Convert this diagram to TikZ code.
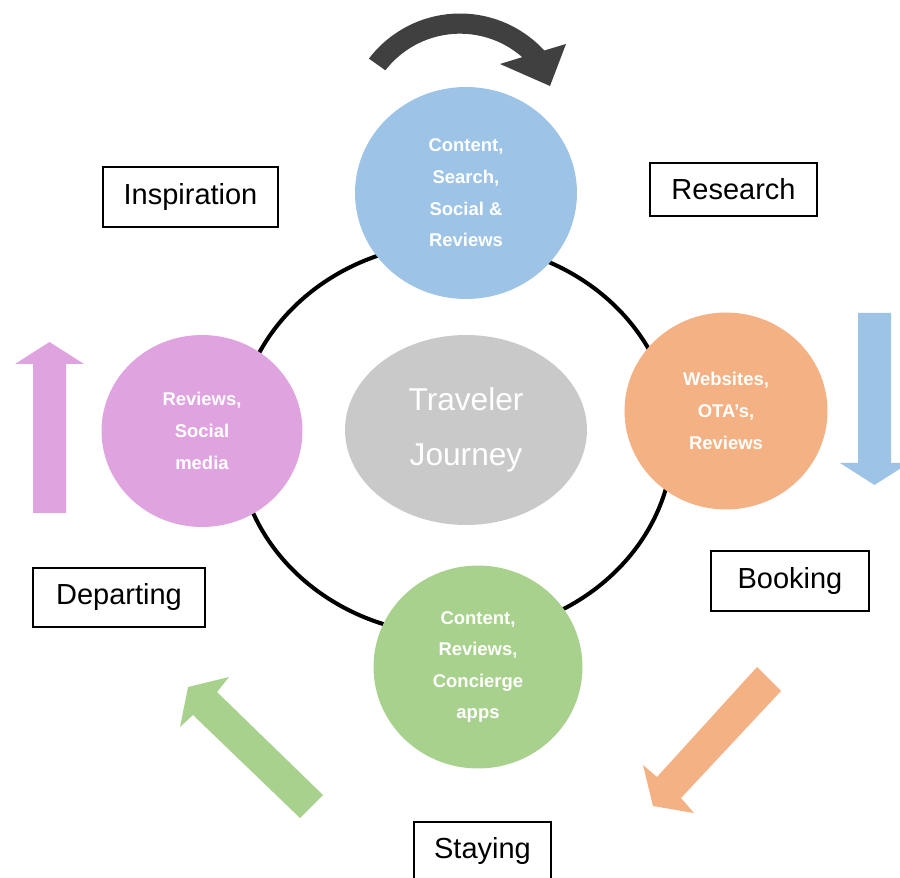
\documentclass[tikz,border=0pt]{standalone}
\usepackage{fontspec}
\setmainfont{Liberation Sans}
\usetikzlibrary{shapes.geometric}

\definecolor{chanblue}{HTML}{9DC3E6}
\definecolor{chanorange}{HTML}{F4B183}
\definecolor{changreen}{HTML}{A9D18E}
\definecolor{chanpink}{HTML}{DFA3E0}
\definecolor{hubgray}{HTML}{C9C9C9}
\definecolor{turngray}{HTML}{404040}

\tikzset{
  stagebox/.style={draw, line width=0.8pt, inner sep=0pt,
    font=\fontsize{16.5}{20}\selectfont},
  touch/.style={ellipse, inner sep=0pt, text=white, align=center,
    font=\bfseries\fontsize{10.5}{18}\selectfont},
}

\begin{document}
\begin{tikzpicture}[x=0.02cm,y=-0.02cm]
  \useasboundingbox (0,0) rectangle (900,878);

  % journey ring and hub
  \draw[line width=2.3pt] (455,439) ellipse [x radius=4.36cm, y radius=3.92cm];
  \node[ellipse, fill=hubgray, minimum width=4.84cm, minimum height=3.8cm,
    text=white, align=center, font=\fontsize{18}{31}\selectfont]
    (hub) at (466,430) {Traveler\\Journey};

  \node[touch, fill=chanblue, minimum width=4.44cm, minimum height=4.24cm]
    (toptouch) at (466,193) {Content,\\Search,\\Social \&\\Reviews};
  \node[touch, fill=chanorange, minimum width=4.06cm, minimum height=3.94cm]
    (righttouch) at (726,411) {Websites,\\OTA’s,\\Reviews};
  \node[touch, fill=changreen, minimum width=4.18cm, minimum height=4.06cm]
    (bottouch) at (478,667) {Content,\\Reviews,\\Concierge\\apps};
  \node[touch, fill=chanpink, minimum width=4.02cm, minimum height=3.84cm]
    (lefttouch) at (202,431) {Reviews,\\Social\\media};

  % stage labels
  \node[stagebox, minimum width=3.5cm, minimum height=1.2cm]
    (inspiration) at (190.5,197) {Inspiration};
  \node[stagebox, minimum width=3.34cm, minimum height=1.06cm]
    (research) at (733.5,189.5) {Research};
  \node[stagebox, minimum width=3.16cm, minimum height=1.2cm]
    (booking) at (790,581) {Booking};
  \node[stagebox, minimum width=2.74cm, minimum height=1.16cm]
    (staying) at (482.5,851) {Staying};
  \node[stagebox, minimum width=3.44cm, minimum height=1.18cm]
    (departing) at (119,597.5) {Departing};

  % block arrows between the stages
  \fill[turngray] plot[domain=142.7:42.6, samples=40]
      ({460+114.5*cos(\x)},{128-114.5*sin(\x)})
    -- (566,44) -- (550,86) -- (500,64)
    -- plot[domain=48.7:142.3, samples=40]
      ({460+94.3*cos(\x)},{128-94.3*sin(\x)}) -- cycle;
  \fill[chanblue] (858,313) -- (891,313) -- (891,463) -- (909,463)
    -- (874.5,485) -- (840,463) -- (858,463) -- cycle;
  \fill[chanorange] (757,667) -- (781,691) -- (681,798) -- (694,813)
    -- (653,806) -- (643,765) -- (657,777) -- cycle;
  \fill[changreen] (300,818) -- (323,795) -- (217,692) -- (229,677)
    -- (188,687) -- (180,727) -- (193,715) -- cycle;
  \fill[chanpink] (33,513) -- (66,513) -- (66,364) -- (84,364)
    -- (49.5,342) -- (15,364) -- (33,364) -- cycle;
\end{tikzpicture}
\end{document}
